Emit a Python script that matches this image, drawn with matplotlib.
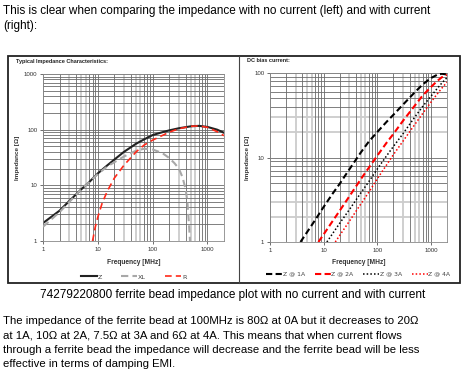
import matplotlib
matplotlib.use("Agg")
import matplotlib.pyplot as plt
from matplotlib.patches import Rectangle
from matplotlib.lines import Line2D
import numpy as np

# ---------------- data ----------------
z_freq = [1, 2, 3, 5, 7, 10, 15, 20, 30, 50, 70, 100, 150, 200, 300, 500, 700, 1000, 1500, 2000]
z_vals = [2.1, 3.5, 5.2, 8.5, 11.5, 16.4, 23, 29, 40, 56, 67, 80, 90, 97, 106, 115, 117, 112, 100, 88]

xl_freq = [1, 2, 3, 5, 7, 10, 15, 20, 30, 50, 70, 100, 150, 200, 250, 300, 350, 400, 430, 460, 480]
xl_vals = [1.8, 3.3, 5.0, 8.5, 11.5, 16, 22, 26, 33, 42, 45.5, 44, 38, 31, 25, 20, 14, 8.5, 5, 2, 1]

r_freq = [8, 9, 10, 12, 15, 20, 30, 50, 70, 100, 200, 300, 500, 700, 1000, 1500, 2000]
r_vals = [1, 1.8, 2.7, 4.8, 8.0, 13.5, 23, 40, 53, 65, 90, 104, 115, 117, 110, 92, 78]

a1_freq = [3.7, 5, 7, 10, 15, 20, 30, 50, 70, 100, 150, 200, 300, 500, 700, 1000, 1300, 1600, 2000]
a1_vals = [1, 1.33, 1.83, 2.6, 3.8, 4.9, 7.2, 11.6, 15.5, 20, 26.5, 32, 42, 59, 73, 87, 95, 98, 96]

a2_freq = [8, 10, 15, 20, 30, 50, 70, 100, 150, 200, 300, 500, 700, 1000, 1300, 1600, 2000]
a2_vals = [1, 1.23, 1.8, 2.35, 3.45, 5.6, 7.6, 10.5, 15, 19, 27, 41, 54, 68, 80, 89, 95]

a3_freq = [11.5, 15, 20, 30, 50, 70, 100, 150, 200, 300, 500, 700, 1000, 1300, 1600, 2000]
a3_vals = [1, 1.28, 1.67, 2.4, 3.85, 5.2, 7.3, 10.5, 13.5, 19, 30, 40, 53, 65, 76, 88]

a4_freq = [16.5, 20, 30, 50, 70, 100, 150, 200, 300, 500, 700, 1000, 1300, 1600, 2000]
a4_vals = [1, 1.2, 1.75, 2.85, 3.9, 5.6, 8.2, 10.8, 15.5, 24.5, 33, 45, 56, 66, 78]

x_ticks = [1, 10, 100, 1000]
x_tick_labels = ["1", "10", "100", "1000"]
left_y_ticks = [1, 10, 100, 1000]
left_y_labels = ["1", "10", "100", "1000"]
right_y_ticks = [1, 10, 100]
right_y_labels = ["1", "10", "100"]

top_text = ["This is clear when comparing the impedance with no current (left) and with current",
            "(right):"]
caption = "74279220800 ferrite bead impedance plot with no current and with current"
paragraph = ["The impedance of the ferrite bead at 100MHz is 80\u03a9 at 0A but it decreases to 20\u03a9",
             "at 1A, 10\u03a9 at 2A, 7.5\u03a9 at 3A and 6\u03a9 at 4A. This means that when current flows",
             "through a ferrite bead the impedance will decrease and the ferrite bead will be less",
             "effective in terms of damping EMI."]

# ---------------- figure ----------------
W, H = 466, 377
fig = plt.figure(figsize=(W / 100, H / 100), dpi=100)
fig.patch.set_facecolor("white")

def fx(px):
    return px / W

def fy(py):
    return 1 - py / H

body_font = ["Liberation Sans", "DejaVu Sans"]
narrow_font = ["Liberation Sans Narrow", "Liberation Sans", "DejaVu Sans"]

# text above
for i, line in enumerate(top_text):
    fig.text(fx(3), fy(11 + i * 14.5), line, fontsize=8.5, family=body_font,
             va="center", ha="left", color="black")

# box around the charts
fig.add_artist(Rectangle((fx(8), fy(283)), fx(460) - fx(8), fy(56) - fy(283),
                         transform=fig.transFigure, fill=False, edgecolor="#222222", lw=1.3))
fig.add_artist(Line2D([fx(239), fx(239)], [fy(56), fy(283)], transform=fig.transFigure,
                      color="#444444", lw=0.8))

fig.text(fx(16), fy(61), "Typical Impedance Characteristics:", fontsize=4.0, family=narrow_font,
         weight="bold", va="center", ha="left", color="#222222")
fig.text(fx(247), fy(61), "DC bias current:", fontsize=4.0, family=narrow_font,
         weight="bold", va="center", ha="left", color="#222222")

# caption and paragraph
fig.text(0.5, fy(295), caption, fontsize=8.45, family=body_font, va="center", ha="center")
for i, line in enumerate(paragraph):
    fig.text(fx(3), fy(321.5 + i * 14.2), line, fontsize=8.2, family=body_font,
             va="center", ha="left")


def style_axes(ax, ymax, yticks, ylabels, light_y):
    ax.set_xscale("log")
    ax.set_yscale("log")
    ax.set_xlim(1, 2000)
    ax.set_ylim(1, ymax)
    ax.set_xticks(x_ticks)
    ax.set_xticklabels(x_tick_labels)
    ax.set_yticks(yticks)
    ax.set_yticklabels(ylabels)
    ax.minorticks_off()
    ax.tick_params(labelsize=4.4, length=2, width=0.5, colors="#333333", pad=2)
    for lbl in ax.get_xticklabels() + ax.get_yticklabels():
        lbl.set_family(body_font)
    # grid
    dec = [1, 10, 100, 1000]
    light_x = [3, 5, 6]
    for d in dec:
        for m in range(1, 10):
            v = d * m
            if v > 2000:
                continue
            if m in light_x:
                ax.axvline(v, color="#cccccc", lw=1.3, zorder=0)
            else:
                ax.axvline(v, color="#6a6a6a", lw=0.6, zorder=0.5)
    for d in dec:
        for m in range(1, 10):
            v = d * m
            if v > ymax:
                continue
            if m in light_y:
                ax.axhline(v, color="#cccccc", lw=1.3, zorder=0)
            else:
                ax.axhline(v, color="#6a6a6a", lw=0.6, zorder=0.5)
    for s in ax.spines.values():
        s.set_color("#888888")
        s.set_linewidth(0.6)
    ax.set_xlabel("Frequency [MHz]", fontsize=4.8, weight="bold", family=body_font,
                  color="#333333", labelpad=5)
    ax.set_ylabel("Impedance [\u03a9]", fontsize=4.6, weight="bold", family=body_font,
                  color="#333333", labelpad=3)


# left chart
axL = fig.add_axes([fx(43), fy(241), fx(224) - fx(43), fy(74) - fy(241)])
style_axes(axL, 1000, left_y_ticks, left_y_labels, light_y=[])
axL.plot(xl_freq, xl_vals, color="#a8a8a8", lw=1.5, ls=(0, (3.5, 2)), label="XL", zorder=3)
axL.plot(r_freq, r_vals, color="#ff2a1a", lw=1.2, ls=(0, (4, 2.5)), label="R", zorder=4)
axL.plot(z_freq, z_vals, color="#222222", lw=1.5, label="Z", zorder=2)
h, l = axL.get_legend_handles_labels()
order = [2, 0, 1]
legL = axL.legend([h[i] for i in order], [l[i] for i in order], ncol=3, loc="center",
                  bbox_to_anchor=(0.5, -0.215), frameon=False, fontsize=4.6,
                  handlelength=2.5, columnspacing=3.0, handletextpad=0.15)
for t in legL.get_texts():
    t.set_color("#444444")

# right chart
axR = fig.add_axes([fx(270), fy(242), fx(447) - fx(270), fy(73) - fy(242)])
style_axes(axR, 100, right_y_ticks, right_y_labels, light_y=[2, 3])
axR.plot(a1_freq, a1_vals, color="black", lw=1.5, ls=(0, (3, 1.6)), label="Z @ 1A", zorder=3)
axR.plot(a2_freq, a2_vals, color="#ff0000", lw=1.5, ls=(0, (3, 1.6)), label="Z @ 2A", zorder=3)
axR.plot(a3_freq, a3_vals, color="black", lw=1.1, ls=(0, (1, 1.4)), label="Z @ 3A", zorder=3)
axR.plot(a4_freq, a4_vals, color="#ff0000", lw=1.1, ls=(0, (1, 1.4)), label="Z @ 4A", zorder=3)
legR = axR.legend(ncol=4, loc="center", bbox_to_anchor=(0.5, -0.19), frameon=False,
                  fontsize=4.4, handlelength=2.6, columnspacing=1.6, handletextpad=0.1)
for t in legR.get_texts():
    t.set_color("#444444")

fig.savefig("out.png", dpi=100, facecolor="white")
